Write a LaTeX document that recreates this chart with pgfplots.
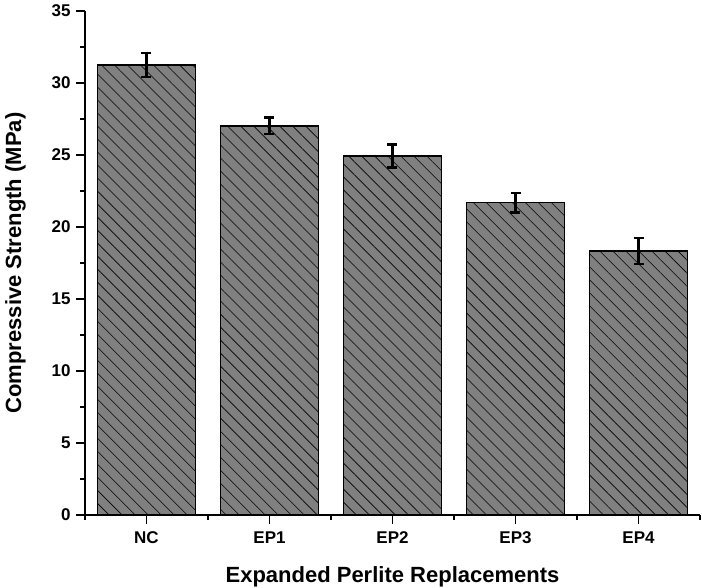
\documentclass[border=0pt]{standalone}
\usepackage{fontspec}
\setmainfont{Liberation Sans}
\usepackage{pgfplots}
\pgfplotsset{compat=1.18}
\usetikzlibrary{patterns.meta}
\begin{document}
\begin{tikzpicture}
\begin{axis}[
  scale only axis,
  width=615pt, height=504pt,
  xmin=-0.5, xmax=4.5, ymin=0, ymax=35,
  axis lines*=left,
  axis line style={line width=1.2pt},
  tick align=outside,
  tick style={line width=1.2pt, black},
  major tick length=9pt, minor tick length=5pt,
  xtick={0,1,2,3,4},
  xticklabels={NC,EP1,EP2,EP3,EP4},
  minor xtick={-0.5,0.5,1.5,2.5,3.5,4.5},
  ytick={0,5,...,35},
  minor ytick={2.5,7.5,...,32.5},
  /pgf/number format/assume math mode=true,
  tick label style={font=\bfseries\fontsize{17}{19}\selectfont},
  xticklabel style={yshift=-4pt},
  yticklabel style={xshift=-2pt},
  xlabel={Expanded Perlite Replacements},
  ylabel={Compressive Strength (MPa)},
  label style={font=\bfseries\fontsize{22}{24}\selectfont},
  xlabel style={yshift=-16.5pt},
  ylabel style={yshift=19pt},
  ybar, bar width=0.8,
]
\addplot[draw=black, line width=1.3pt, fill=gray,
  postaction={pattern={Lines[angle=-45,distance=9.2pt,line width=0.6pt]}},
  error bars/.cd, y dir=both, y explicit,
  error bar style={line width=2.4pt, black},
  error mark options={rotate=90, mark size=5pt, line width=2.4pt, black}]
coordinates {
  (0,31.25) +- (0,0.85)
  (1,27.02) +- (0,0.58)
  (2,24.93) +- (0,0.8)
  (3,21.68) +- (0,0.68)
  (4,18.33) +- (0,0.9)
};
\end{axis}
\pgfresetboundingbox
\path[use as bounding box] ([xshift=-85pt,yshift=-73pt]current axis.south west) rectangle ([xshift=2pt,yshift=11pt]current axis.north east);
\end{tikzpicture}
\end{document}
